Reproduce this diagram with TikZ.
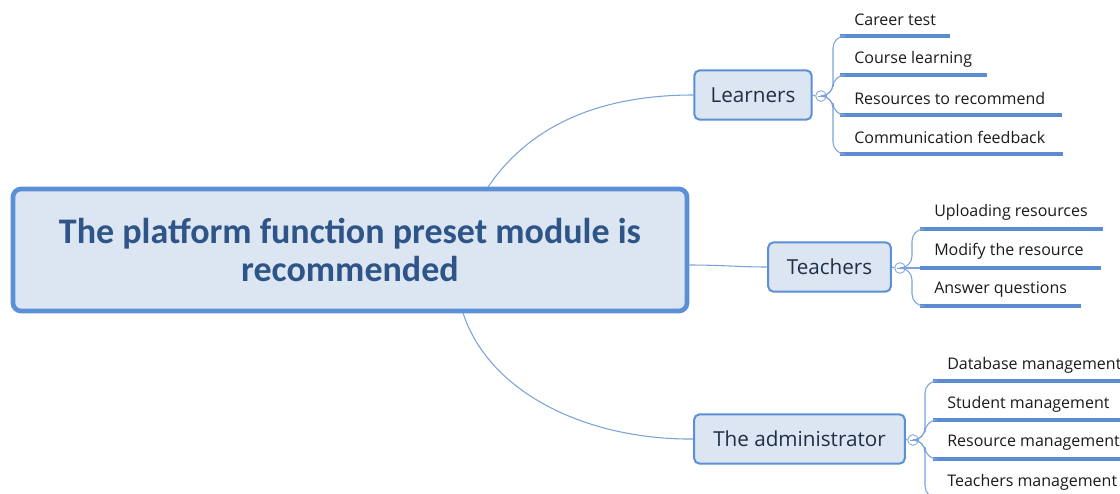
\documentclass[tikz,border=0pt]{standalone}
\usepackage{fontspec}
\setmainfont{Open Sans}
\newfontfamily\rootfont{Carlito}
\definecolor{boxfill}{HTML}{DCE6F2}
\definecolor{boxline}{HTML}{5B8FD6}
\definecolor{conn}{HTML}{7BA3DB}
\definecolor{leafline}{HTML}{5B8BD0}
\definecolor{roottext}{HTML}{2E5488}
\definecolor{subtext}{HTML}{1F2F45}
\definecolor{leaftext}{HTML}{1A1A1A}
\begin{document}
\begin{tikzpicture}[x=0.75pt,y=-0.75pt,
  rootbox/.style={draw=boxline,line width=3.5pt,fill=boxfill,rounded corners=6pt,
    minimum width=505.5pt,minimum height=91.5pt,align=center,text=roottext,
    font=\rootfont\bfseries\fontsize{27}{29}\selectfont},
  subbox/.style={draw=boxline,line width=1.5pt,fill=boxfill,rounded corners=4pt,
    minimum height=37pt,text=subtext,font=\fontsize{15.5}{18}\selectfont,inner xsep=0pt},
  leaf/.style={anchor=west,inner sep=0pt,text=leaftext,font=\fontsize{12}{14}\selectfont},
  uline/.style={draw=leafline,line width=2.6pt},
  conline/.style={draw=conn,line width=0.8pt},
  collapse/.style={circle,draw=conn,fill=white,line width=0.6pt,minimum size=8pt,inner sep=0pt,
    path picture={\draw[conn,line width=0.6pt] ([xshift=-2pt]path picture bounding box.center) -- ([xshift=2pt]path picture bounding box.center);}}
]
\useasboundingbox (0,0) rectangle (1120,493);

% root
\node[rootbox] (root) at (350,250) {The platform function preset module is\\recommended};

% sub-topics
\node[subbox,minimum width=88pt] (learn) at (753,95) {Learners};
\node[subbox,minimum width=92pt] (teach) at (829.5,267) {Teachers};
\node[subbox,minimum width=158pt] (admin) at (799.5,439) {The administrator};

% root connectors
\coordinate (r1) at (488,187);
\coordinate (r3) at (463,313);
\draw[conline] (r1) .. controls (530,125) and (600,95) .. (learn.west);
\draw[conline] (root.east |- 0,265) .. controls (720,265) and (740,267) .. (teach.west);
\draw[conline] (r3) .. controls (490,395) and (590,440) .. (admin.west);

% collapse circles
\node[collapse] (c1) at (821,96) {};
\node[collapse] (c2) at (900,268) {};
\node[collapse] (c3) at (913,440) {};
\draw[conline] (learn.east) -- (c1.west);
\draw[conline] (teach.east) -- (c2.west);
\draw[conline] (admin.east) -- (c3.west);

% Learners leaves
\coordinate (a1s) at (840,36);  \coordinate (a1e) at (950,36);
\coordinate (a2s) at (840,75);  \coordinate (a2e) at (987,75);
\coordinate (a3s) at (840,115); \coordinate (a3e) at (1062,115);
\coordinate (a4s) at (840,154); \coordinate (a4e) at (1063,154);
\node[leaf] (a1) at (854,20) {Career test};
\node[leaf] (a2) at (854,59) {Course learning};
\node[leaf] (a3) at (854,98) {Resources to recommend};
\node[leaf] (a4) at (854,137) {Communication feedback};
\foreach \i in {1,2,3,4} \draw[uline] (a\i s) -- (a\i e);
\draw[conline,rounded corners=9pt] (c1.east) -- (833,96) -- (833,36) -- (a1s);
\draw[conline,rounded corners=9pt] (c1.east) -- (833,96) -- (833,75) -- (a2s);
\draw[conline,rounded corners=9pt] (c1.east) -- (833,96) -- (833,115) -- (a3s);
\draw[conline,rounded corners=9pt] (c1.east) -- (833,96) -- (833,154) -- (a4s);

% Teachers leaves
\coordinate (b1s) at (920,229); \coordinate (b1e) at (1103,229);
\coordinate (b2s) at (920,268); \coordinate (b2e) at (1101,268);
\coordinate (b3s) at (920,306); \coordinate (b3e) at (1081,306);
\node[leaf] (b1) at (934,212) {Uploading resources};
\node[leaf] (b2) at (934,251) {Modify the resource};
\node[leaf] (b3) at (934,290) {Answer questions};
\foreach \i in {1,2,3} \draw[uline] (b\i s) -- (b\i e);
\draw[conline,rounded corners=9pt] (c2.east) -- (912,268) -- (912,229) -- (b1s);
\draw[conline] (c2.east) -- (b2s);
\draw[conline,rounded corners=9pt] (c2.east) -- (912,268) -- (912,306) -- (b3s);

% Administrator leaves
\coordinate (d1s) at (933,381); \coordinate (d1e) at (1120,381);
\coordinate (d2s) at (933,420); \coordinate (d2e) at (1120,420);
\coordinate (d3s) at (933,459); \coordinate (d3e) at (1120,459);
\coordinate (d4s) at (933,498);
\node[leaf] (d1) at (947,365) {Database management};
\node[leaf] (d2) at (947,404) {Student management};
\node[leaf] (d3) at (947,443) {Resource management};
\node[leaf] (d4) at (947,482) {Teachers management};
\foreach \i in {1,2,3} \draw[uline] (d\i s) -- (d\i e);
\draw[conline,rounded corners=9pt] (c3.east) -- (925,440) -- (925,381) -- (d1s);
\draw[conline,rounded corners=9pt] (c3.east) -- (925,440) -- (925,420) -- (d2s);
\draw[conline,rounded corners=9pt] (c3.east) -- (925,440) -- (925,459) -- (d3s);
\draw[conline,rounded corners=9pt] (c3.east) -- (925,440) -- (925,498) -- (d4s);
\end{tikzpicture}
\end{document}
